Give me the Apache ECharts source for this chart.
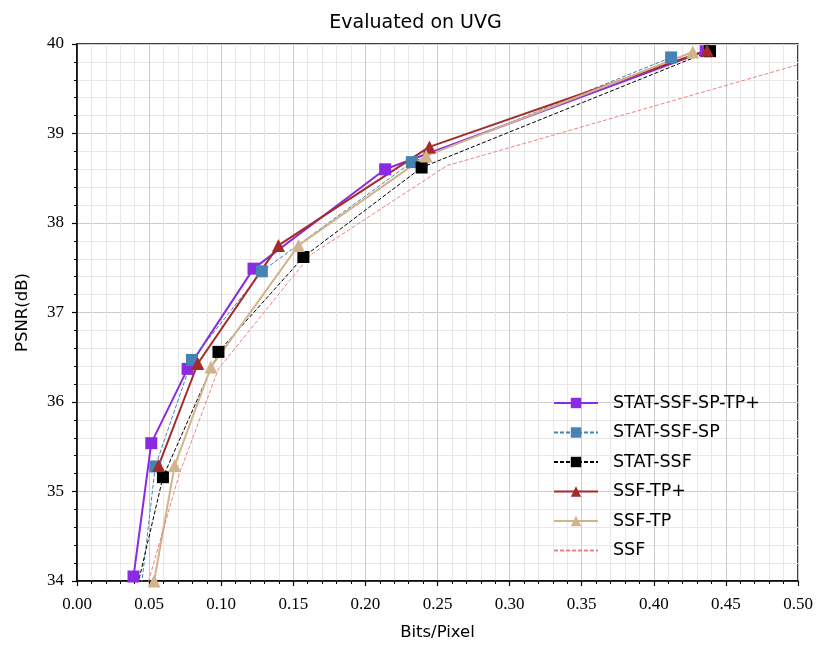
<!DOCTYPE html>
<html>
<head>
<meta charset="utf-8">
<script src="https://cdn.jsdelivr.net/npm/echarts@6/dist/echarts.min.js"></script>
<style>
  html, body { margin: 0; padding: 0; background: #fff; }
  #main { width: 831px; height: 656px; }
</style>
</head>
<body>
<div id="main"></div>
<script>
// values (bits/pixel, PSNR dB)
var statSsfSpTp = [[0.0392, 34.05], [0.0515, 35.54], [0.0767, 36.37], [0.1224, 37.49], [0.2137, 38.60], [0.436, 39.92]];
var statSsfSp = [[0.0429, 33.7], [0.0543, 35.28], [0.0797, 36.47], [0.1282, 37.46], [0.2322, 38.68], [0.412, 39.85]];
var statSsf = [[0.0384, 33.7], [0.0596, 35.16], [0.0981, 36.56], [0.157, 37.62], [0.239, 38.62], [0.439, 39.92]];
var ssfTpPlus = [[0.0566, 35.29], [0.0838, 36.43], [0.1397, 37.75], [0.2444, 38.85], [0.437, 39.93]];
var ssfTp = [[0.0535, 34.0], [0.0677, 35.29], [0.0929, 36.39], [0.1536, 37.75], [0.2421, 38.75], [0.427, 39.91]];
var ssf = [[0.0461, 33.8], [0.071, 35.2], [0.0981, 36.37], [0.1617, 37.64], [0.2564, 38.64], [0.55, 40.0]];

var names = ['STAT-SSF-SP-TP+', 'STAT-SSF-SP', 'STAT-SSF', 'SSF-TP+', 'SSF-TP', 'SSF'];

var numFont = 'Liberation Serif';
var txtFont = 'DejaVu Sans';

var myChart = echarts.init(document.getElementById('main'), null, { renderer: 'canvas' });

function mkSeries(name, data, color, width, dash, symbol, size) {
    return {
        name: name,
        type: 'line',
        data: data,
        symbol: symbol,
        symbolSize: size,
        showSymbol: symbol !== 'none',
        clip: true,
        animation: false,
        itemStyle: { color: color },
        lineStyle: { color: color, width: width, type: dash }
    };
}

// legend entries, SSF has a line only
var legendData = names.map(function (n) {
    if (n === 'SSF') return { name: n, itemStyle: { opacity: 0 } };
    return { name: n };
});

var option = {
    animation: false,
    title: {
        text: 'Evaluated on UVG',
        left: 'center',
        top: 9,
        textStyle: { fontFamily: txtFont, fontSize: 19, fontWeight: 'normal', color: '#000' }
    },
    grid: {
        left: 77, right: 33, top: 44, bottom: 75,
        show: true, borderColor: '#000', borderWidth: 1.5, backgroundColor: 'transparent'
    },
    legend: {
        orient: 'vertical',
        left: 553,
        top: 394,
        padding: 0,
        itemWidth: 44,
        itemHeight: 13,
        itemGap: 11.5,
        textStyle: { fontFamily: txtFont, fontSize: 17.5, color: '#000', padding: [0, 0, 0, 10] },
        data: legendData
    },
    xAxis: {
        type: 'value',
        min: 0, max: 0.5, interval: 0.05,
        name: 'Bits/Pixel',
        nameLocation: 'middle',
        nameGap: 43,
        nameTextStyle: { fontFamily: txtFont, fontSize: 16.5, color: '#000' },
        axisLine: { show: true, onZero: false, lineStyle: { color: '#000', width: 1.5 } },
        axisTick: { show: true, length: 5, lineStyle: { color: '#000', width: 1.2 } },
        minorTick: { show: true, splitNumber: 5, length: 3, lineStyle: { color: '#000', width: 1 } },
        axisLabel: {
            fontFamily: numFont, fontSize: 17, color: '#000', margin: 15,
            formatter: function (v) { return v.toFixed(2); }
        },
        splitLine: { show: true, lineStyle: { color: '#cccccc', width: 1 } },
        minorSplitLine: { show: true, lineStyle: { color: '#e8e8e8', width: 1 } }
    },
    yAxis: {
        type: 'value',
        min: 34, max: 40, interval: 1,
        name: 'PSNR(dB)',
        nameLocation: 'middle',
        nameGap: 46,
        nameTextStyle: { fontFamily: txtFont, fontSize: 16.5, color: '#000' },
        axisLine: { show: true, onZero: false, lineStyle: { color: '#000', width: 1.5 } },
        axisTick: { show: true, length: 5, lineStyle: { color: '#000', width: 1.2 } },
        minorTick: { show: true, splitNumber: 5, length: 3, lineStyle: { color: '#000', width: 1 } },
        axisLabel: { fontFamily: numFont, fontSize: 17, color: '#000', margin: 13 },
        splitLine: { show: true, lineStyle: { color: '#cccccc', width: 1 } },
        minorSplitLine: { show: true, lineStyle: { color: '#e8e8e8', width: 1 } }
    },
    // drawn in legend order, later series on top
    series: [
        mkSeries(names[0], statSsfSpTp, '#8a2be2', 2, 'solid', 'rect', 12),
        mkSeries(names[1], statSsfSp, '#4682b4', 1, [4, 2], 'rect', 12),
        mkSeries(names[2], statSsf, '#000000', 1, [4, 2], 'rect', 12),
        mkSeries(names[3], ssfTpPlus, '#a52a2a', 2, 'solid', 'triangle', 13),
        mkSeries(names[4], ssfTp, '#d2b48c', 2, 'solid', 'triangle', 13),
        mkSeries(names[5], ssf, '#f08080', 1, [4, 2], 'none', 0)
    ]
};

myChart.setOption(option);
</script>
</body>
</html>
